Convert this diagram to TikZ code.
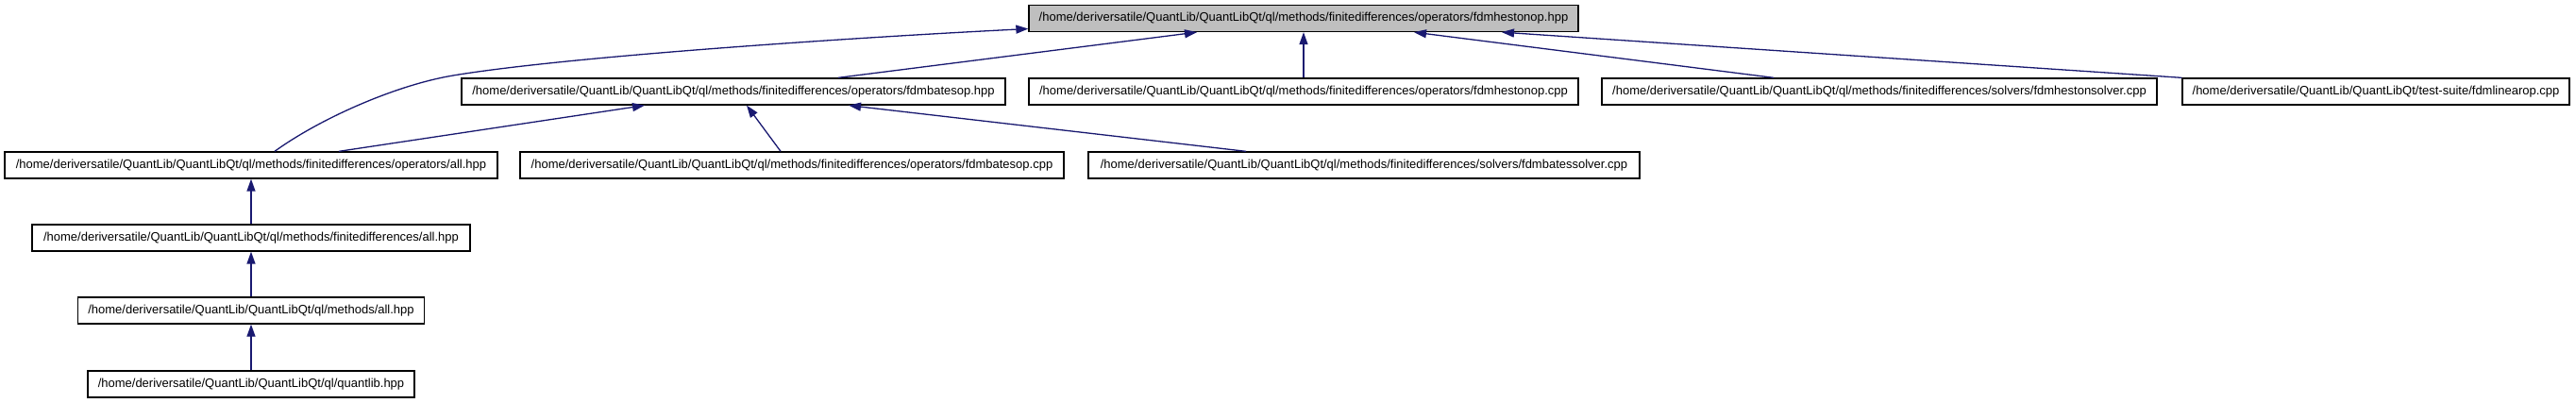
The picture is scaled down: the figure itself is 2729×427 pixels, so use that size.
\documentclass[tikz,border=0pt]{standalone}
\usepackage{fontspec}
\setmainfont{Liberation Sans}
\usetikzlibrary{arrows.meta}
\definecolor{edgeblue}{HTML}{191970}
\definecolor{topgray}{HTML}{BFBFBF}
\tikzset{
  filebox/.style={draw=black, line width=1.3pt, fill=white, minimum height=28pt, inner sep=0pt, font=\fontsize{13}{15}\selectfont, anchor=center},
  topbox/.style={filebox, fill=topgray},
  dep/.style={draw=edgeblue, line width=1.3pt, -{Triangle[length=13pt,width=9pt]}, fill=none},
}
\begin{document}
\begin{tikzpicture}[x=1pt,y=-1pt]
\useasboundingbox (0,0) rectangle (2729,427);
% row 1
\node[topbox, minimum width=582pt] (top) at (1381,19.5) {/home/deriversatile/QuantLib/QuantLibQt/ql/methods/finitedifferences/operators/fdmhestonop.hpp};
% row 2
\node[filebox, minimum width=576pt] (batesophpp) at (777,97) {/home/deriversatile/QuantLib/QuantLibQt/ql/methods/finitedifferences/operators/fdmbatesop.hpp};
\node[filebox, minimum width=582pt] (hestonopcpp) at (1381,97) {/home/deriversatile/QuantLib/QuantLibQt/ql/methods/finitedifferences/operators/fdmhestonop.cpp};
\node[filebox, minimum width=588pt] (hestonsolver) at (1991,97) {/home/deriversatile/QuantLib/QuantLibQt/ql/methods/finitedifferences/solvers/fdmhestonsolver.cpp};
\node[filebox, minimum width=410pt] (linearop) at (2517,97) {/home/deriversatile/QuantLib/QuantLibQt/test-suite/fdmlinearop.cpp};
% row 3
\node[filebox, minimum width=522pt] (opsall) at (266,175) {/home/deriversatile/QuantLib/QuantLibQt/ql/methods/finitedifferences/operators/all.hpp};
\node[filebox, minimum width=576pt] (batesopcpp) at (839,175) {/home/deriversatile/QuantLib/QuantLibQt/ql/methods/finitedifferences/operators/fdmbatesop.cpp};
\node[filebox, minimum width=584pt] (batessolver) at (1445,175) {/home/deriversatile/QuantLib/QuantLibQt/ql/methods/finitedifferences/solvers/fdmbatessolver.cpp};
% rows 4-6
\node[filebox, minimum width=464pt] (fdall) at (266,252) {/home/deriversatile/QuantLib/QuantLibQt/ql/methods/finitedifferences/all.hpp};
\node[filebox, minimum width=367pt] (methall) at (266,329) {/home/deriversatile/QuantLib/QuantLibQt/ql/methods/all.hpp};
\node[filebox, minimum width=346pt] (quantlib) at (266,407) {/home/deriversatile/QuantLib/QuantLibQt/ql/quantlib.hpp};
% edges
\draw[dep] ([xshift=25pt]opsall.north) .. controls (340,125) and (420,90) .. (480,80)
  .. controls (600,60) and (900,40) .. ([yshift=-11pt]top.west);
\draw[dep] ([xshift=111pt]batesophpp.north) -- ([xshift=-113pt]top.south);
\draw[dep] (hestonopcpp.north) -- (top.south);
\draw[dep] ([xshift=-112pt]hestonsolver.north) -- ([xshift=117pt]top.south);
\draw[dep] (linearop.north west) -- ([xshift=210pt]top.south);
\draw[dep] ([xshift=93pt]opsall.north) -- ([xshift=-94pt]batesophpp.south);
\draw[dep] ([xshift=-12pt]batesopcpp.north) -- ([xshift=14pt]batesophpp.south);
\draw[dep] ([xshift=-125pt]batessolver.north) -- ([xshift=122pt]batesophpp.south);
\draw[dep] (fdall.north) -- (opsall.south);
\draw[dep] (methall.north) -- (fdall.south);
\draw[dep] (quantlib.north) -- (methall.south);
\end{tikzpicture}
\end{document}
